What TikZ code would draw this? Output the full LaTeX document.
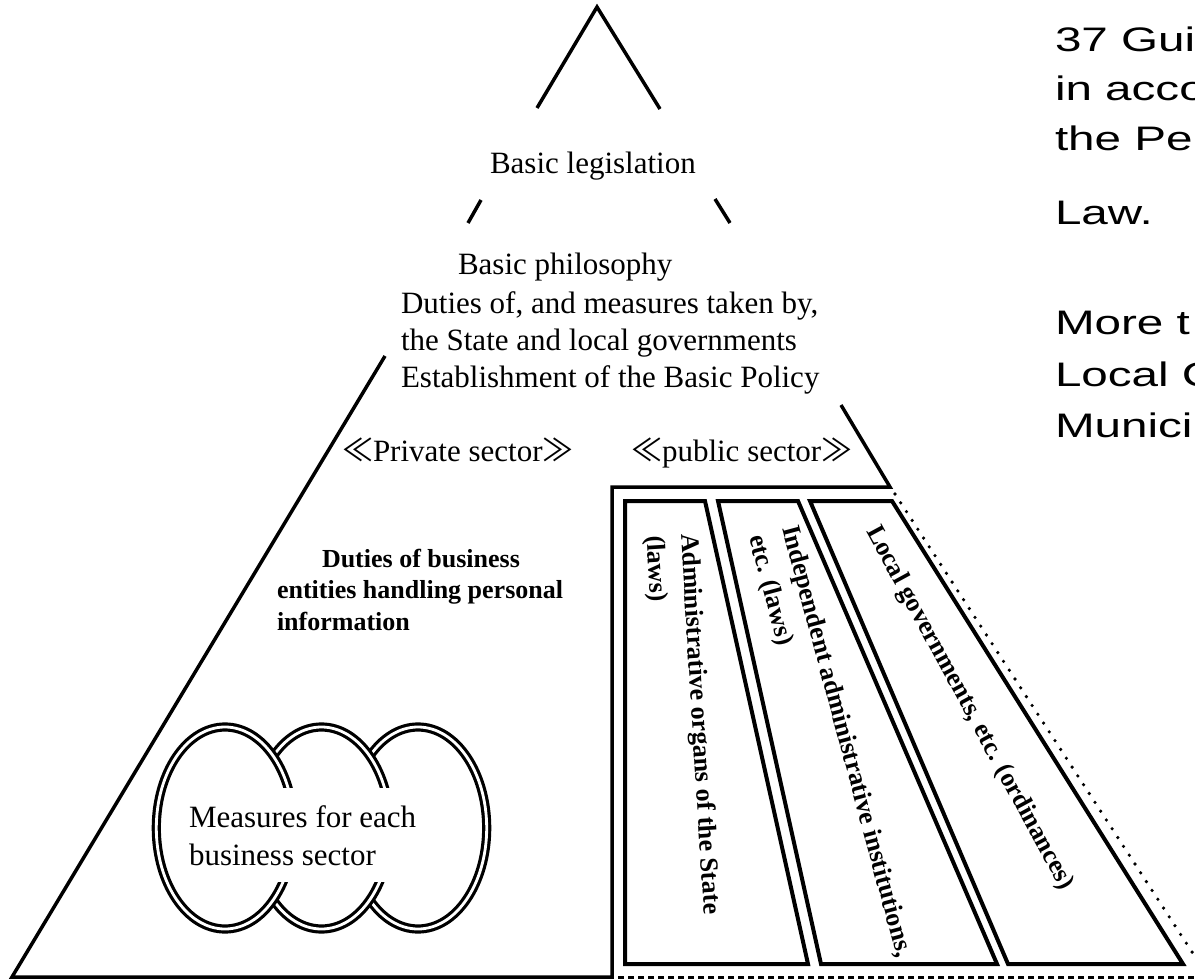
\documentclass[tikz,border=0pt]{standalone}
\usepackage{fontspec}
\setmainfont{Liberation Serif}
\newfontfamily\arialf{Liberation Sans}
\newfontfamily\cjkf{Noto Sans CJK JP}
\tikzset{
  ln/.style={line width=3.5pt, line join=miter, line cap=butt},
  boxln/.style={line width=4pt, line join=miter},
  dbl/.style={draw=black, double=white, double distance=2.8pt, line width=3.2pt, fill=white},
  txt/.style={anchor=base west, inner sep=0pt, outer sep=0pt, font=\fontsize{31}{37}\selectfont},
  btxt/.style={anchor=base west, inner sep=0pt, outer sep=0pt, font=\fontsize{26}{31}\selectfont\bfseries},
  rtxt/.style={anchor=base west, inner sep=0pt, outer sep=0pt, font=\arialf\fontsize{34}{40}\selectfont},
}
\begin{document}
\begin{tikzpicture}[x=1pt,y=-1pt]
\useasboundingbox (0,0) rectangle (1195,979);
\clip (0,0) rectangle (1195,979);
\fill[white] (0,0) rectangle (1195,979);

% pyramid outline
\draw[ln] (537,108) -- (597,7) -- (660,109);
\draw[ln] (481,200) -- (468,223);
\draw[ln] (715,199) -- (730,223);
\draw[ln] (385,356) -- (12,977) -- (612,977) -- (612,487) -- (890,487) -- (841,405);

% bottom dashed and dotted edges
\draw[line width=3pt, dash pattern=on 6pt off 4pt] (618,977) -- (1200,977);
\draw[line width=3.6pt, line cap=round, dash pattern=on 0pt off 10.5pt] (895,494) -- (1205,972);

% public sector boxes
\draw[boxln] (625,501) -- (705,501) -- (808,964) -- (625,964) -- cycle;
\draw[boxln] (718,501) -- (798,501) -- (997,964) -- (821,964) -- cycle;
\draw[boxln] (810,501) -- (892,501) -- (1183,964) -- (1008,964) -- cycle;

% business sector ellipses
\draw[dbl] (418,828) ellipse [x radius=68.7pt, y radius=101pt];
\draw[dbl] (321.5,828) ellipse [x radius=68.7pt, y radius=101pt];
\draw[dbl] (225,828) ellipse [x radius=68.7pt, y radius=101pt];
\fill[white] (268,788) rectangle (402,882);

% texts
\node[txt] (leg) at (490,174) {Basic legislation};
\node[txt] (phil) at (458,274) {Basic philosophy};
\node[txt] (duty) at (401,313) {Duties of, and measures taken by,};
\node[txt] (state) at (401,350) {the State and local governments};
\node[txt] (estab) at (401,387) {Establishment of the Basic Policy};
\node[txt] (priv) at (342,461) {{\cjkf ≪}Private sector{\cjkf ≫}};
\node[txt] (pub) at (631,461) {{\cjkf ≪}public sector{\cjkf ≫}};

\node[btxt] (bd1) at (322,567) {Duties of business};
\node[btxt] (bd2) at (277,598) {entities handling personal};
\node[btxt] (bd3) at (277,630) {information};

\node[txt] (meas1) at (189,827) {Measures for each};
\node[txt] (meas2) at (189,865) {business sector};

\node[btxt, rotate=-86.5] (adm1) at (681,534) {Administrative organs of the State};
\node[btxt, rotate=-86.5] (adm2) at (647,536) {(laws)};
\node[btxt, rotate=-75] (ind1) at (782,528) {Independent administrative institutions,};
\node[btxt, rotate=-75] (ind2) at (749,537) {etc. (laws)};
\node[btxt, rotate=-61.5] (loc) at (866,531) {Local governments, etc. (ordinances)};

% right-hand text (cut by the picture edge)
\node[rtxt] (r1) at (1055,52) {\scalebox{1.4}[1]{37 Gui}};
\node[rtxt] (r2) at (1055,101) {\scalebox{1.4}[1]{in acco}};
\node[rtxt] (r3) at (1055,151) {\scalebox{1.4}[1]{the Pe}};
\node[rtxt] (r4) at (1055,224) {\scalebox{1.4}[1]{Law.}};
\node[rtxt] (r5) at (1055,334) {\scalebox{1.4}[1]{More t}};
\node[rtxt] (r6) at (1055,386) {\scalebox{1.4}[1]{Local C}};
\node[rtxt] (r7) at (1055,437) {\scalebox{1.4}[1]{Munici}};
\end{tikzpicture}
\end{document}
